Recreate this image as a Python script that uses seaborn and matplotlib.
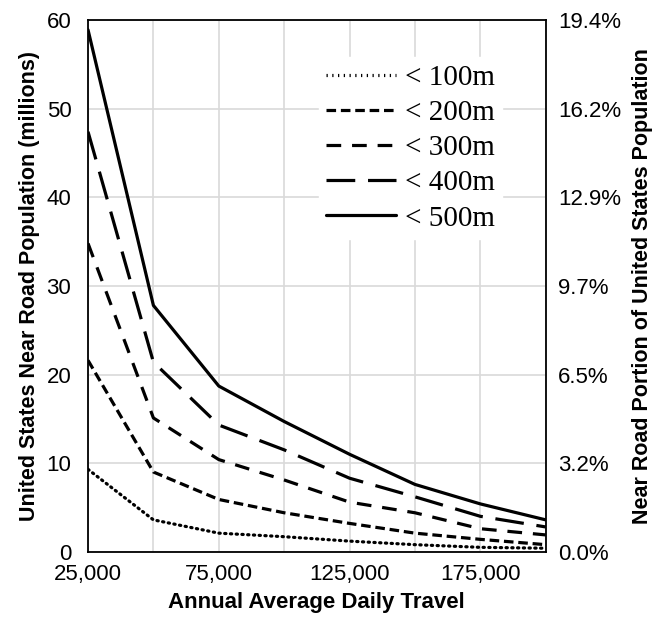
import seaborn as sns
import matplotlib.pyplot as plt
import numpy as np
import pandas as pd

# data (millions of people)
aadt = [25000, 50000, 75000, 100000, 125000, 150000, 175000, 200000]
pop_100 = [9.3, 3.6, 2.1, 1.7, 1.2, 0.8, 0.5, 0.4]
pop_200 = [21.6, 9.0, 5.9, 4.4, 3.2, 2.1, 1.4, 0.8]
pop_300 = [34.8, 15.1, 10.4, 8.1, 5.6, 4.4, 2.6, 1.9]
pop_400 = [47.4, 21.4, 14.3, 11.5, 8.3, 6.2, 4.0, 2.8]
pop_500 = [58.9, 27.8, 18.7, 14.7, 11.0, 7.6, 5.4, 3.6]
labels = ["< 100m", "< 200m", "< 300m", "< 400m", "< 500m"]
x_ticks = [25000, 75000, 125000, 175000]
x_ticklabels = ["25,000", "75,000", "125,000", "175,000"]
pct_max = 19.4  # right axis top, matches 60 million

rows = []
for lab, vals in zip(labels, [pop_100, pop_200, pop_300, pop_400, pop_500]):
    for x, v in zip(aadt, vals):
        rows.append({"aadt": x, "pop": v, "dist": lab})
df = pd.DataFrame(rows)

sns.set_style("white")
plt.rcParams["font.family"] = ["Liberation Sans", "DejaVu Sans"]
plt.rcParams["text.color"] = "black"
plt.rcParams["axes.labelcolor"] = "black"
plt.rcParams["xtick.color"] = "black"
plt.rcParams["ytick.color"] = "black"

fig = plt.figure(figsize=(6.52, 6.27), dpi=100)
ax = fig.add_axes([0.135, 0.12, 0.702, 0.848])

dash_map = {
    "< 100m": (0.4, 1.4),
    "< 200m": (3, 1.5),
    "< 300m": (4.6, 3.4),
    "< 400m": (9, 4),
    "< 500m": "",
}
sns.lineplot(data=df, x="aadt", y="pop", style="dist", dashes=dash_map,
             color="black", linewidth=2.3, ax=ax, legend=True)
ax.lines[0].set_dash_capstyle("round")

ax.set_xlim(25000, 200000)
ax.set_ylim(0, 60)
ax.set_xticks(x_ticks)
ax.set_xticklabels(x_ticklabels, fontsize=16)
ax.set_xticks(range(25000, 200001, 25000), minor=True)
ax.set_yticks(range(0, 61, 10))
ax.tick_params(axis="y", labelsize=16, length=0, pad=12)
ax.tick_params(axis="x", length=0, which="both", pad=9)
ax.grid(True, which="both", color="#d9d9d9", linewidth=1.2)
ax.set_axisbelow(True)
for s in ax.spines.values():
    s.set_color("black")
    s.set_linewidth(1.3)

ax.set_xlabel("Annual Average Daily Travel", fontsize=16, fontweight="bold", labelpad=5)
ax.set_ylabel("United States Near Road Population (millions)", fontsize=15.5,
              fontweight="bold", labelpad=5)

ax2 = ax.twinx()
ax2.set_ylim(0, pct_max)
ticks2 = np.linspace(0, pct_max, 7)
ax2.set_yticks(ticks2)
ax2.set_yticklabels(["%.1f%%" % t for t in ticks2], fontsize=16)
ax2.tick_params(axis="y", length=0, pad=9)
ax2.set_ylabel("Near Road Portion of United States Population", fontsize=15.5,
               fontweight="bold", labelpad=8)
for s in ax2.spines.values():
    s.set_visible(False)

handles, labs = ax.get_legend_handles_labels()
leg = ax.legend(handles, labs, loc="upper right", bbox_to_anchor=(0.905, 0.93),
                frameon=True, framealpha=1, edgecolor="white", fancybox=False,
                prop={"family": "Liberation Serif", "size": 21},
                handlelength=2.4, handletextpad=0.3, labelspacing=0.3,
                borderpad=0.25, borderaxespad=0)
leg.set_zorder(5)

fig.savefig("out.png", dpi=100)
